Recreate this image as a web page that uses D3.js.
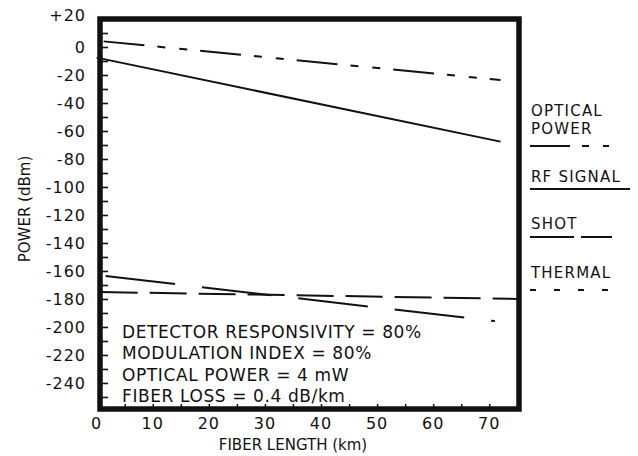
<!DOCTYPE html>
<html>
<head>
<meta charset="utf-8">
<script src="https://cdn.jsdelivr.net/npm/d3@7"></script>
<style>
  body { margin: 0; background: #fff; }
  svg text { font-family: 'DejaVu Sans', sans-serif; fill: #111; }
  .tick-label { font-size: 16px; letter-spacing: 1px; }
  .axis-label { font-size: 15px; }
  .note { font-size: 17px; letter-spacing: 0.6px; }
  .legend-label { font-size: 15px; letter-spacing: 1.2px; }
</style>
</head>
<body>
<svg width="638" height="456"></svg>
<script>
  // values (km, dBm)
  const opticalKm = [0, 72];
  const opticalDbm = [4.5, -23.6];
  const rfKm = [0, 72];
  const rfDbm = [-7.6, -67.6];
  const shotKm = [0, 71];
  const shotDbm = [-162.9, -195.8];
  const thermalKm = [0, 75.3];
  const thermalDbm = [-175, -180];

  const yTickValues = [20, 0, -20, -40, -60, -80, -100, -120, -140, -160, -180, -200, -220, -240];
  const yTickLabels = ['+20', '0', '-20', '-40', '-60', '-80', '-100', '-120', '-140', '-160', '-180', '-200', '-220', '-240'];
  const xTickValues = [0, 10, 20, 30, 40, 50, 60, 70];

  const legendLabels = [['OPTICAL', 'POWER'], ['RF SIGNAL'], ['SHOT'], ['THERMAL']];
  const notes = [
    'DETECTOR RESPONSIVITY = 80%',
    'MODULATION INDEX = 80%',
    'OPTICAL POWER = 4 mW',
    'FIBER LOSS = 0.4 dB/km'
  ];

  const svg = d3.select('svg');
  const width = +svg.attr('width');
  const height = +svg.attr('height');

  const render = () => {
    const xScale = d3.scaleLinear().domain([0.6, 75.3]).range([100, 519]);
    const yScale = d3.scaleLinear().domain([-258.6, 20]).range([409, 19]);

    const x0 = xScale.range()[0], x1 = xScale.range()[1];
    const y0 = yScale.range()[1], y1 = yScale.range()[0];

    // minor ticks, inward from the frame
    const yAxis = d3.axisRight(yScale)
      .tickValues(d3.range(-250, 20, 10))
      .tickSize(8)
      .tickFormat('');
    svg.append('g')
      .attr('transform', `translate(${x0},0)`)
      .call(yAxis)
      .call(g => g.select('.domain').remove())
      .selectAll('line').attr('stroke', '#111').attr('stroke-width', 1.6);

    const xAxis = d3.axisTop(xScale)
      .tickValues(d3.range(5, 75, 5))
      .tickSize(5)
      .tickFormat('');
    svg.append('g')
      .attr('transform', `translate(0,${y1})`)
      .call(xAxis)
      .call(g => g.select('.domain').remove())
      .selectAll('line').attr('stroke', '#111').attr('stroke-width', 1.5);

    // tick labels
    svg.selectAll('.ylab').data(yTickValues)
      .enter().append('text')
        .attr('class', 'tick-label')
        .attr('text-anchor', 'end')
        .attr('x', 86)
        .attr('y', (d, i) => yScale(d) + (i === 0 ? 2 : 6))
        .text((d, i) => yTickLabels[i]);

    svg.selectAll('.xlab').data(xTickValues)
      .enter().append('text')
        .attr('class', 'tick-label')
        .attr('text-anchor', 'middle')
        .attr('x', d => xScale(d))
        .attr('y', 429)
        .text(d => d);

    svg.append('text')
      .attr('class', 'axis-label')
      .attr('text-anchor', 'middle')
      .attr('x', 293).attr('y', 450)
      .text('FIBER LENGTH (km)');

    svg.append('text')
      .attr('class', 'axis-label')
      .attr('text-anchor', 'middle')
      .attr('transform', 'translate(30,209) rotate(-90)')
      .text('POWER (dBm)');

    // curves
    const line = d3.line().x(d => xScale(d[0])).y(d => yScale(d[1]));
    const series = [
      { km: opticalKm, dbm: opticalDbm, dash: '41,13,8,14,8,13', offset: 90 },
      { km: rfKm, dbm: rfDbm, dash: null, offset: 0 },
      { km: shotKm, dbm: shotDbm, dash: '70,27', offset: 88 },
      { km: thermalKm, dbm: thermalDbm, dash: '37,12', offset: 45 }
    ];
    svg.selectAll('.curve').data(series)
      .enter().append('path')
        .attr('class', 'curve')
        .attr('d', s => line(s.km.map((k, i) => [k, s.dbm[i]])))
        .attr('fill', 'none')
        .attr('stroke', '#111')
        .attr('stroke-width', 2)
        .attr('stroke-dasharray', s => s.dash)
        .attr('stroke-dashoffset', s => s.offset);

    // thick frame
    svg.append('rect')
      .attr('x', x0).attr('y', y0)
      .attr('width', x1 - x0).attr('height', y1 - y0)
      .attr('fill', 'none')
      .attr('stroke', '#111')
      .attr('stroke-width', 5.5);

    // notes inside the plot
    svg.selectAll('.note').data(notes)
      .enter().append('text')
        .attr('class', 'note')
        .attr('x', 122)
        .attr('y', (d, i) => 338 + i * 21.3)
        .text(d => d);

    // legend at the right
    const legendBase = [116, 182, 229, 278];
    const legendLineY = [146, 189, 237, 290];
    const legendDash = ['40,12,7,14,7,40', null, '44,7', '6,18'];
    const legendEnd = [609, 630, 612, 608];
    legendLabels.forEach((lines, i) => {
      lines.forEach((t, j) => {
        svg.append('text')
          .attr('class', 'legend-label')
          .attr('x', 531)
          .attr('y', legendBase[i] + j * 18)
          .text(t);
      });
      svg.append('line')
        .attr('x1', 530).attr('x2', legendEnd[i])
        .attr('y1', legendLineY[i]).attr('y2', legendLineY[i])
        .attr('stroke', '#111')
        .attr('stroke-width', 2)
        .attr('stroke-dasharray', legendDash[i]);
    });
  };

  render();
</script>
</body>
</html>
